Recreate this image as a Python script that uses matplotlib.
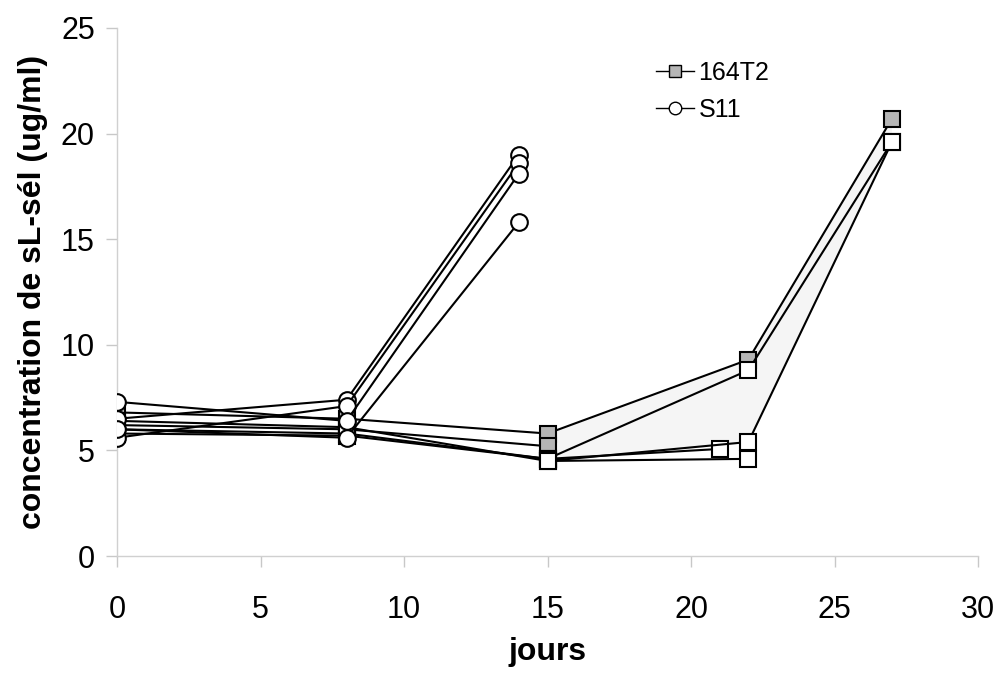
import matplotlib
matplotlib.use("Agg")
import matplotlib.pyplot as plt

plt.rcParams['font.family'] = ['Liberation Sans', 'DejaVu Sans']

# S11 series (circles)
s11_days = [0, 8, 14]
s11_values = [
    [6.5, 7.4, 19.0],
    [5.6, 7.1, 18.6],
    [7.3, 6.4, 18.1],
    [6.0, 5.6, 15.8],
]

# 164T2 series (grey squares)
t2_days = [
    [0, 8, 15, 22, 27],
    [0, 8, 15],
]
t2_values = [
    [6.8, 6.5, 5.8, 9.3, 20.7],
    [6.2, 6.0, 5.2],
]

# unlabeled series (white squares)
w_days = [
    [0, 8, 15, 22, 27],
    [0, 8, 15, 21],
    [0, 8, 15, 22],
    [15, 22, 27],
]
w_values = [
    [6.0, 5.8, 4.6, 8.8, 19.6],
    [5.8, 5.7, 4.6, 5.07],
    [6.4, 6.1, 4.5, 4.6],
    [4.5, 5.4, 19.6],
]

# shaded region between upper and lower paths (days 15 -> 22 -> 27)
shade_upper_days = [15, 22, 27]
shade_upper_values = [5.8, 9.3, 20.7]
shade_lower_days = [27, 22, 15]
shade_lower_values = [19.6, 5.4, 4.5]

fig = plt.figure(figsize=(10, 6.73), dpi=100)
ax = fig.add_axes([0.117, 0.1738, 0.861, 0.7846])

ax.fill(shade_upper_days + shade_lower_days,
        shade_upper_values + shade_lower_values,
        color='#f5f5f5', zorder=1, lw=0)

ms = 12
lw = 1.5
for i, (d, v) in enumerate(zip(t2_days, t2_values)):
    ax.plot(d, v, color='black', lw=lw, marker='s', ms=ms, mfc='#b5b5b5', mec='black', mew=1.5, zorder=2,
            label='164T2' if i == 0 else None)
for d, v in zip(w_days, w_values):
    ax.plot(d, v, color='black', lw=lw, marker='s', ms=ms, mfc='white', mec='black', mew=1.5, zorder=3)
for i, v in enumerate(s11_values):
    ax.plot(s11_days, v, color='black', lw=lw, marker='o', ms=ms, mfc='white', mec='black', mew=1.5, zorder=4,
            label='S11' if i == 0 else None)

ax.set_xlim(0, 30)
ax.set_ylim(0, 25)
ax.set_xticks([0, 5, 10, 15, 20, 25, 30])
ax.set_yticks([0, 5, 10, 15, 20, 25])

for s in ['top', 'right']:
    ax.spines[s].set_visible(False)
for s in ['left', 'bottom']:
    ax.spines[s].set_color('#d0d0d0')
    ax.spines[s].set_linewidth(1)
ax.tick_params(axis='both', colors='#c8c8c8', labelcolor='black', labelsize=22, length=8, width=1)
ax.tick_params(axis='x', pad=20)
ax.tick_params(axis='y', pad=8)

ax.set_xlabel('jours', fontsize=23, fontweight='bold', labelpad=9)
ax.set_ylabel('concentration de sL-sél (ug/ml)', fontsize=23, fontweight='bold', labelpad=9)

leg = ax.legend(loc='upper left', bbox_to_anchor=(0.6, 0.98), frameon=False, fontsize=18,
                handlelength=1.5, handletextpad=0.2, labelspacing=0.5, markerscale=0.75)
for h in leg.legend_handles:
    h.set_linewidth(1.0)
    h.set_markeredgewidth(1.0)

fig.savefig('out.png', dpi=100)
